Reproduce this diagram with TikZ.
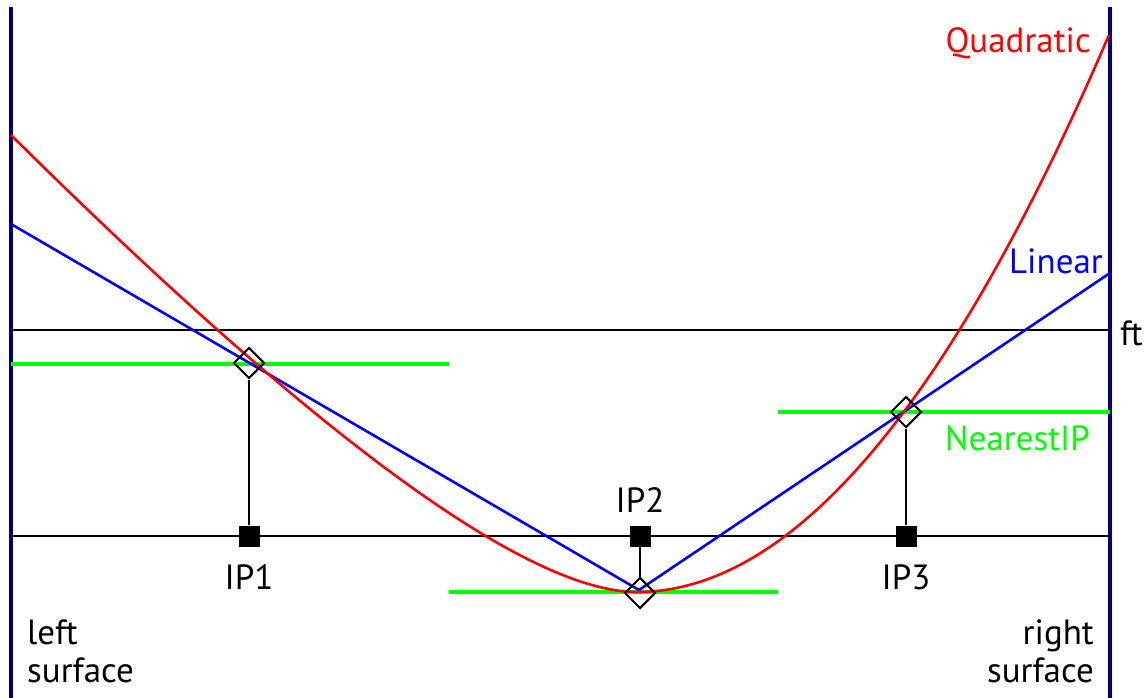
\documentclass[tikz,border=0pt]{standalone}
\usepackage{fontspec}
\setmainfont{PT Sans}
\usetikzlibrary{shapes.geometric}
\definecolor{surfblue}{RGB}{0,0,128}

\begin{document}
\begin{tikzpicture}
	[x=1pt, y=-1pt,
	 font={\fontsize{35}{38}\selectfont},
	 ip/.style={rectangle, fill, minimum size=21pt, inner sep=0pt},
	 nearest/.style={diamond, draw, line width=2pt, minimum size=31pt, inner sep=0pt},
	 every label/.style={inner sep=0pt}]
	\useasboundingbox (0,0) rectangle (1148,698);

	% surfaces
	\draw (11,7) -- (11,698) [color=surfblue, line width=4.5pt];
	\draw (1110,7) -- (1110,698) [color=surfblue, line width=4.5pt];
	\node at (27,683) [anchor=south west, inner sep=0pt, align=left] {left\\surface};
	\node at (1094,683) [anchor=south east, inner sep=0pt, align=right] {right\\surface};

	% ft and element axis
	\draw (11,330) -- (1110,330) [line width=1.2pt];
	\node at (1120,345) [anchor=base west, inner sep=0pt] {ft};
	\draw (11,536) -- (1110,536) [line width=2.4pt];

	% nearest IP values
	\draw (11,364) -- (449,364) [color=green, line width=3.5pt];
	\draw (449,592) -- (778,592) [color=green, line width=3.5pt];
	\draw (778,412) -- (1110,412) [color=green, line width=3.5pt];
	\node at (945,450) [anchor=base west, inner sep=0pt, color=green] {NearestIP};

	\node (ip1) at (249,536) [ip, label={[label distance=18pt]below:IP1}] {};
	\node (ip2) at (640,536) [ip, label={[label distance=13pt]above:IP2}] {};
	\node (ip3) at (906,536) [ip, label={[label distance=18pt]below:IP3}] {};

	% linear
	\draw (11,224) -- (639,590) -- (1110,273) [color=blue, line width=2.6pt];
	\node at (1103,273) [anchor=base east, inner sep=0pt, color=blue] {Linear};

	% quadratic
	\draw (11,135) .. controls (319,440) and (528,592) .. (637,592)
		.. controls (792,592) and (950,406) .. (1109,35) [color=red, line width=2.6pt];
	\node at (1091,53) [anchor=base east, inner sep=0pt, color=red] {Quadratic};

	\node (nip1) at (249,363) [nearest] {};
	\node (nip2) at (640,593) [nearest] {};
	\node (nip3) at (906,412) [nearest] {};

	\draw (ip1) -- (nip1) [line width=2.4pt];
	\draw (ip2) -- (nip2) [line width=2.4pt];
	\draw (ip3) -- (nip3) [line width=2.4pt];
\end{tikzpicture}
\end{document}
